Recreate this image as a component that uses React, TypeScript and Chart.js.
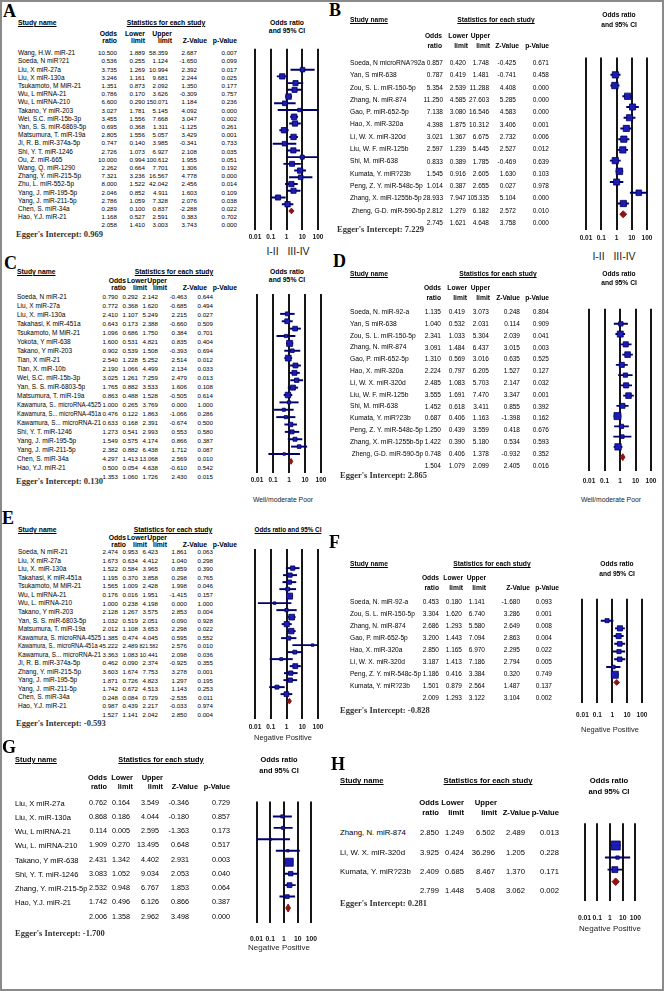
import React, { useEffect, useRef } from 'react';
import { Chart, registerables } from 'chart.js';

Chart.register(...registerables);

// ---------- shared labels ----------
const TICK_VALUES = [0.01, 0.1, 1, 10, 100];
const TICK_LABELS = ['0.01', '0.1', '1', '10', '100'];
const COL_HEAD_1 = ['Odds', 'Lower', 'Upper'];
const COL_HEAD_2 = ['ratio', 'limit', 'limit', 'Z-Value', 'p-Value'];

// ---------- Panel A ----------
const A_STUDIES = ['Wang, H.W. miR-21', 'Soeda, N miR?21', 'Liu, X miR-27a', 'Liu, X miR-130a', 'Tsukamoto, M MiR-21', 'Wu, L miRNA-21', 'Wu, L miRNA-210', 'Takano, Y miR-203', 'Wei, S.C. miR-15b-3p', 'Yan, S. S. miR-6869-5p', 'Matsumura, T. miR-19a', 'Ji, R. B. miR-374a-5p', 'Shi, Y. T. miR-1246', 'Ou, Z. miR-665', 'Wang, Q. miR-1290', 'Zhang, Y. miR-215-5p', 'Zhu, L. miR-552-5p', 'Yang, J. miR-195-5p', 'Yang, J. miR-211-5p', 'Chen, S. miR-34a', 'Hao, Y.J. miR-21'];
const A_OR = [10.5, 0.536, 3.735, 3.246, 1.351, 0.786, 6.6, 3.027, 3.455, 0.695, 2.805, 0.747, 2.726, 10.0, 2.262, 7.321, 8.0, 2.046, 2.786, 0.289, 1.168];
const A_LOWER = [1.889, 0.255, 1.269, 1.161, 0.873, 0.17, 0.29, 1.781, 1.556, 0.368, 1.556, 0.14, 1.073, 0.994, 0.664, 3.236, 1.522, 0.852, 1.059, 0.1, 0.527];
const A_UPPER = [58.359, 1.124, 10.994, 9.681, 2.092, 3.626, 150.071, 5.145, 7.668, 1.311, 5.057, 3.985, 6.927, 100.612, 7.701, 16.567, 42.042, 4.911, 7.328, 0.837, 2.591];
const A_Z = [2.687, -1.65, 2.392, 2.244, 1.35, -0.309, 1.184, 4.092, 3.047, -1.125, 3.429, -0.341, 2.108, 1.955, 1.306, 4.778, 2.456, 1.603, 2.076, -2.288, 0.383];
const A_P = [0.007, 0.099, 0.017, 0.025, 0.177, 0.757, 0.236, 0.0, 0.002, 0.261, 0.001, 0.733, 0.035, 0.051, 0.192, 0.0, 0.014, 0.109, 0.038, 0.022, 0.702];
const A_POOLED = [2.058, 1.41, 3.003, 3.743, 0.0];
const A_EGGER = 0.969;

// ---------- Panel B ----------
const B_STUDIES = ['Soeda, N microRNA?92a', 'Yan, S miR-638', 'Zou, S. L. miR-150-5p', 'Zhang, N. miR-874', 'Gao, P. miR-652-5p', 'Hao, X. miR-320a', 'Li, W. X. miR-320d', 'Liu, W. F. miR-125b', 'Shi, M. miR-638', 'Kumata, Y. miR?23b', 'Peng, Z. Y. miR-548c-5p', 'Zhang, X. miR-1255b-5p', '\u00a0Zheng, G-D. miR-590-5p'];
const B_OR = [0.857, 0.787, 5.354, 11.25, 7.138, 4.398, 3.021, 2.597, 0.833, 1.545, 1.014, 28.933, 2.812];
const B_LOWER = [0.42, 0.419, 2.539, 4.585, 3.08, 1.875, 1.367, 1.239, 0.389, 0.916, 0.387, 7.947, 1.279];
const B_UPPER = [1.748, 1.481, 11.288, 27.603, 16.546, 10.312, 6.675, 5.445, 1.785, 2.605, 2.655, 105.335, 6.182];
const B_Z = [-0.425, -0.741, 4.408, 5.285, 4.583, 3.406, 2.732, 2.527, -0.469, 1.63, 0.027, 5.104, 2.572];
const B_P = [0.671, 0.458, 0.0, 0.0, 0.0, 0.001, 0.006, 0.012, 0.639, 0.103, 0.978, 0.0, 0.01];
const B_POOLED = [2.745, 1.621, 4.648, 3.758, 0.0];
const B_EGGER = 7.229;

// ---------- Panel C ----------
const C_STUDIES = ['Soeda, N miR-21', 'Liu, X miR-27a', 'Liu, X. miR-130a', 'Takahasi, K miR-451a', 'Tsukamoto, M MiR-21', 'Yokota, Y miR-638', 'Takano, Y miR-203', 'Tian, X miR-21', 'Tian, X. miR-10b', 'Wei, S.C. miR-15b-3p', 'Yan, S. S. miR-6803-5p', 'Matsumura, T. miR-19a', 'Kawamura, S.. microRNA-4525', 'Kawamura, S... microRNA-451a', 'Kawamura, S... microRNA-21', 'Shi, Y. T. miR-1246', 'Yang, J. miR-195-5p', 'Yang, J. miR-211-5p', 'Chen, S. miR-34a', 'Hao, Y.J. miR-21'];
const C_OR = [0.79, 0.772, 2.41, 0.643, 1.096, 1.6, 0.902, 2.54, 2.19, 3.025, 1.765, 0.863, 1.0, 0.476, 0.633, 1.273, 1.549, 2.382, 4.297, 0.5];
const C_LOWER = [0.292, 0.368, 1.107, 0.173, 0.686, 0.531, 0.539, 1.228, 1.066, 1.261, 0.882, 0.488, 0.265, 0.122, 0.168, 0.541, 0.575, 0.882, 1.413, 0.054];
const C_UPPER = [2.142, 1.62, 5.249, 2.388, 1.75, 4.821, 1.508, 5.252, 4.499, 7.259, 3.533, 1.528, 3.769, 1.863, 2.391, 2.993, 4.174, 6.438, 13.068, 4.638];
const C_Z = [-0.463, -0.685, 2.215, -0.66, 0.384, 0.835, -0.393, 2.514, 2.134, 2.479, 1.606, -0.505, 0.0, -1.066, -0.674, 0.553, 0.866, 1.712, 2.569, -0.61];
const C_P = [0.644, 0.494, 0.027, 0.509, 0.701, 0.404, 0.694, 0.012, 0.033, 0.013, 0.108, 0.614, 1.0, 0.286, 0.5, 0.58, 0.387, 0.087, 0.01, 0.542];
const C_POOLED = [1.353, 1.06, 1.726, 2.43, 0.015];
const C_EGGER = 0.13;

// ---------- Panel D ----------
const D_STUDIES = ['Soeda, N. miR-92-a', 'Yan, S miR-638', 'Zou, S. L. miR-150-5p', 'Zhang, N. miR-874', 'Gao, P. miR-652-5p', 'Hao, X. miR-320a', 'Li, W. X. miR-320d', 'Liu, W. F. miR-125b', 'Shi, M. miR-638', 'Kumata, Y. miR?23b', 'Peng, Z. Y. miR-548c-5p', 'Zhang, X. miR-1255b-5p', '\u00a0Zheng, G-D. miR-590-5p'];
const D_OR = [1.135, 1.04, 2.341, 3.091, 1.31, 2.224, 2.485, 3.555, 1.452, 0.687, 1.25, 1.422, 0.748];
const D_LOWER = [0.419, 0.532, 1.033, 1.484, 0.569, 0.797, 1.083, 1.691, 0.618, 0.406, 0.439, 0.39, 0.406];
const D_UPPER = [3.073, 2.031, 5.304, 6.437, 3.016, 6.205, 5.703, 7.47, 3.411, 1.163, 3.559, 5.18, 1.378];
const D_Z = [0.248, 0.114, 2.039, 3.015, 0.635, 1.527, 2.147, 3.347, 0.855, -1.398, 0.418, 0.534, -0.932];
const D_P = [0.804, 0.909, 0.041, 0.003, 0.525, 0.127, 0.032, 0.001, 0.392, 0.162, 0.676, 0.593, 0.352];
const D_POOLED = [1.504, 1.079, 2.099, 2.405, 0.016];
const D_EGGER = 2.865;

// ---------- Panel E ----------
const E_STUDIES = ['Soeda, N miR-21', 'Liu, X miR-27a', 'Liu, X. miR-130a', 'Takahasi, K miR-451a', 'Tsukamoto, M MiR-21', 'Wu, L miRNA-21', 'Wu, L. miRNA-210', 'Takano, Y miR-203', 'Yan, S. S. miR-6803-5p', 'Matsumura, T. miR-19a', 'Kawamura, S. microRNA-4525', 'Kawamura, S.. microRNA-451a', 'Kawamura, S... microRNA-21', 'Ji, R. B. miR-374a-5p', 'Zhang, Y. miR-215-5p', 'Yang, J. miR-195-5p', 'Yang, J. miR-211-5p', 'Chen, S. miR-34a', 'Hao, Y.J. miR-21'];
const E_OR = [2.474, 1.673, 1.522, 1.195, 1.565, 0.176, 1.0, 2.128, 1.032, 2.012, 1.385, 45.222, 3.363, 0.462, 3.603, 1.871, 1.742, 0.248, 0.987];
const E_LOWER = [0.953, 0.634, 0.584, 0.37, 1.009, 0.016, 0.238, 1.267, 0.519, 1.108, 0.474, 2.489, 1.083, 0.09, 1.674, 0.726, 0.672, 0.084, 0.439];
const E_UPPER = [6.423, 4.412, 3.965, 3.858, 2.428, 1.951, 4.198, 3.575, 2.051, 3.653, 4.045, 821.582, 10.441, 2.374, 7.753, 4.823, 4.513, 0.729, 2.217];
const E_Z = [1.861, 1.04, 0.859, 0.298, 1.998, -1.415, 0.0, 2.853, 0.09, 2.298, 0.595, 2.576, 2.098, -0.925, 3.278, 1.297, 1.143, -2.535, -0.033];
const E_P = [0.063, 0.298, 0.39, 0.765, 0.046, 0.157, 1.0, 0.004, 0.928, 0.022, 0.552, 0.01, 0.036, 0.355, 0.001, 0.195, 0.253, 0.011, 0.974];
const E_POOLED = [1.527, 1.141, 2.042, 2.85, 0.004];
const E_EGGER = -0.593;

// ---------- Panel F ----------
const F_STUDIES = ['Soeda, N. miR-92-a', 'Zou, S. L. miR-150-5p', 'Zhang, N. miR-874', 'Gao, P. miR-652-5p', 'Hao, X. miR-320a', 'Li, W. X. miR-320d', 'Peng, Z. Y. miR-548c-5p', 'Kumata, Y. miR?23b'];
const F_OR = [0.453, 3.304, 2.686, 3.2, 2.85, 3.187, 1.186, 1.501];
const F_LOWER = [0.18, 1.62, 1.293, 1.443, 1.165, 1.413, 0.416, 0.879];
const F_UPPER = [1.141, 6.74, 5.58, 7.094, 6.97, 7.186, 3.384, 2.564];
const F_Z = [-1.68, 3.286, 2.649, 2.863, 2.295, 2.794, 0.32, 1.487];
const F_P = [0.093, 0.001, 0.008, 0.004, 0.022, 0.005, 0.749, 0.137];
const F_POOLED = [2.009, 1.293, 3.122, 3.104, 0.002];
const F_EGGER = -0.828;

// ---------- Panel G ----------
const G_STUDIES = ['Liu, X miR-27a', 'Liu, X. miR-130a', 'Wu, L miRNA-21', 'Wu, L. miRNA-210', 'Takano, Y miR-638', 'Shi, Y. T. miR-1246', 'Zhang, Y. miR-215-5p', 'Hao, Y.J. miR-21'];
const G_OR = [0.762, 0.868, 0.114, 1.909, 2.431, 3.083, 2.532, 1.742];
const G_LOWER = [0.164, 0.186, 0.005, 0.27, 1.342, 1.052, 0.948, 0.496];
const G_UPPER = [3.549, 4.044, 2.595, 13.495, 4.402, 9.034, 6.767, 6.126];
const G_Z = [-0.346, -0.18, -1.363, 0.648, 2.931, 2.053, 1.853, 0.866];
const G_P = [0.729, 0.857, 0.173, 0.517, 0.003, 0.04, 0.064, 0.387];
const G_POOLED = [2.006, 1.358, 2.962, 3.498, 0.0];
const G_EGGER = -1.7;

// ---------- Panel H ----------
const H_STUDIES = ['Zhang, N. miR-874', 'Li, W. X. miR-320d', 'Kumata, Y. miR?23b'];
const H_OR = [2.85, 3.925, 2.409];
const H_LOWER = [1.249, 0.424, 0.685];
const H_UPPER = [6.502, 36.296, 8.467];
const H_Z = [2.489, 1.205, 1.37];
const H_P = [0.013, 0.228, 0.171];
const H_POOLED = [2.799, 1.448, 5.408, 3.062, 0.002];
const H_EGGER = 0.281;

// ---------- styles ----------
const SANS = '"Liberation Sans", Arial, sans-serif';
const SERIF = '"Liberation Serif", "Times New Roman", serif';
const BOX = '#1c1cb4';
const BOX_EDGE = '#00005a';
const CI_COLOR = '#00006e';
const DIA = '#8e1414';
const GRID = '#161616';

type PanelData = { names: string[]; or: number[]; lo: number[]; hi: number[]; z: number[]; p: number[]; pooled: number[]; egger: number };
type Plot = { left: number; right: number; top: number; bottom: number; tickY: number; tickFs: number };
type Cfg = {
  label: string; lx: number; ly: number;
  fs: number; nfs: number; hfs: number;
  nameX: number; cols: number[]; hcols: number[];
  topY: number; statsX: number;
  ciX: number; ciY: number[]; ciLines: string[]; ciU: boolean;
  h1: number; h2: number;
  r0: number; pitch: number;
  eggerX: number; eggerY: number;
  plot: Plot;
  footer: string; footerX: number; footerY: number; footerFs: number;
  tau2: number; maxSide: number; minSide: number; dh: number;
};

const mk = (names: string[], or: number[], lo: number[], hi: number[], z: number[], p: number[], pooled: number[], egger: number): PanelData => ({ names, or, lo, hi, z, p, pooled, egger });

const DATA: Record<string, PanelData> = {
  A: mk(A_STUDIES, A_OR, A_LOWER, A_UPPER, A_Z, A_P, A_POOLED, A_EGGER),
  B: mk(B_STUDIES, B_OR, B_LOWER, B_UPPER, B_Z, B_P, B_POOLED, B_EGGER),
  C: mk(C_STUDIES, C_OR, C_LOWER, C_UPPER, C_Z, C_P, C_POOLED, C_EGGER),
  D: mk(D_STUDIES, D_OR, D_LOWER, D_UPPER, D_Z, D_P, D_POOLED, D_EGGER),
  E: mk(E_STUDIES, E_OR, E_LOWER, E_UPPER, E_Z, E_P, E_POOLED, E_EGGER),
  F: mk(F_STUDIES, F_OR, F_LOWER, F_UPPER, F_Z, F_P, F_POOLED, F_EGGER),
  G: mk(G_STUDIES, G_OR, G_LOWER, G_UPPER, G_Z, G_P, G_POOLED, G_EGGER),
  H: mk(H_STUDIES, H_OR, H_LOWER, H_UPPER, H_Z, H_P, H_POOLED, H_EGGER),
};

const TWO = ['Odds ratio', 'and 95% CI'];

const CFGS: Cfg[] = [
  { label: 'A', lx: 3, ly: 12, fs: 6.5, nfs: 6.2, hfs: 6.8, nameX: 18, cols: [117, 145, 168, 197, 237], hcols: [117, 145, 172, 207, 237],
    topY: 23, statsX: 166, ciX: 287, ciY: [23, 31], ciLines: TWO, ciU: false, h1: 34, h2: 41, r0: 53, pitch: 8.2,
    eggerX: 16, eggerY: 234, plot: { left: 255, right: 318, top: 46, bottom: 230, tickY: 237, tickFs: 6.5 },
    footer: 'I-II   III-IV', footerX: 288, footerY: 251, footerFs: 10.5, tau2: 1.5, maxSide: 5.5, minSide: 3, dh: 3.5 },
  { label: 'B', lx: 329, ly: 11, fs: 6.7, nfs: 6.5, hfs: 6.7, nameX: 350, cols: [443, 466, 489, 516, 549], hcols: [442, 468, 490, 519, 549],
    topY: 20, statsX: 496, ciX: 619, ciY: [15, 25], ciLines: TWO, ciU: false, h1: 36, h2: 46, r0: 63, pitch: 12.3,
    eggerX: 337, eggerY: 229, plot: { left: 586, right: 647, top: 54, bottom: 230, tickY: 238, tickFs: 6.5 },
    footer: 'I-II   III-IV', footerX: 614, footerY: 256, footerFs: 10.5, tau2: 1.0, maxSide: 6.5, minSide: 3, dh: 4 },
  { label: 'C', lx: 4, ly: 264, fs: 6.5, nfs: 6.2, hfs: 6.8, nameX: 17, cols: [118, 138, 158, 187, 213], hcols: [126, 147, 167, 207, 237],
    topY: 272, statsX: 174, ciX: 287, ciY: [272, 280], ciLines: TWO, ciU: false, h1: 281, h2: 288, r0: 297, pitch: 9,
    eggerX: 16, eggerY: 481, plot: { left: 257, right: 321, top: 291, bottom: 473, tickY: 480, tickFs: 6.5 },
    footer: 'Well/moderate Poor', footerX: 283, footerY: 500, footerFs: 6.8, tau2: 0.1, maxSide: 6, minSide: 2.5, dh: 3.5 },
  { label: 'D', lx: 333, ly: 262, fs: 6.7, nfs: 6.5, hfs: 6.7, nameX: 350, cols: [441, 465, 489, 520, 549], hcols: [441, 467, 490, 520, 549],
    topY: 274, statsX: 498, ciX: 619, ciY: [274, 283], ciLines: TWO, ciU: false, h1: 288, h2: 298, r0: 312, pitch: 11.8,
    eggerX: 340, eggerY: 475, plot: { left: 589, right: 651, top: 305, bottom: 471, tickY: 481, tickFs: 6.5 },
    footer: 'Well/moderate Poor', footerX: 611, footerY: 500, footerFs: 6.8, tau2: 0.05, maxSide: 7, minSide: 3, dh: 4 },
  { label: 'E', lx: 2, ly: 519, fs: 6.5, nfs: 6.2, hfs: 6.8, nameX: 18, cols: [118, 138, 158, 187, 213], hcols: [126, 147, 167, 207, 237],
    topY: 530, statsX: 173, ciX: 288, ciY: [530], ciLines: ['Odds ratio and 95% CI'], ciU: true, h1: 538, h2: 545, r0: 552, pitch: 8.55,
    eggerX: 16, eggerY: 723, plot: { left: 255, right: 318, top: 546, bottom: 719, tickY: 727, tickFs: 6.5 },
    footer: 'Negative Positive', footerX: 283, footerY: 737, footerFs: 7.5, tau2: 0.15, maxSide: 6, minSide: 2.5, dh: 3.5 },
  { label: 'F', lx: 329, ly: 543, fs: 6.6, nfs: 6.5, hfs: 6.7, nameX: 350, cols: [439, 462, 485, 520, 552], hcols: [439, 463, 486, 530, 559],
    topY: 564, statsX: 492, ciX: 617, ciY: [564, 574], ciLines: TWO, ciU: false, h1: 578, h2: 588, r0: 602, pitch: 12,
    eggerX: 340, eggerY: 710, plot: { left: 582, right: 642, top: 595, bottom: 703, tickY: 715, tickFs: 6.5 },
    footer: 'Negative Positive', footerX: 610, footerY: 729, footerFs: 7.5, tau2: 0, maxSide: 7, minSide: 3, dh: 4.5 },
  { label: 'G', lx: 2, ly: 748, fs: 7.5, nfs: 7.2, hfs: 7.4, nameX: 15, cols: [107, 130, 159, 189, 230], hcols: [107, 133, 163, 198, 230],
    topY: 760, statsX: 161, ciX: 279, ciY: [760, 771], ciLines: TWO, ciU: false, h1: 778, h2: 787, r0: 803, pitch: 14.25,
    eggerX: 15, eggerY: 933, plot: { left: 252, right: 315, top: 797, bottom: 922, tickY: 938, tickFs: 6.8 },
    footer: 'Negative Positive', footerX: 279, footerY: 948, footerFs: 8, tau2: 0, maxSide: 8, minSide: 1.8, dh: 5 },
  { label: 'H', lx: 331, ly: 765, fs: 7.8, nfs: 7.6, hfs: 7.7, nameX: 340, cols: [439, 464, 495, 525, 559], hcols: [439, 464, 497, 530, 559],
    topY: 781, statsX: 488, ciX: 609, ciY: [781, 792], ciLines: TWO, ciU: false, h1: 803, h2: 813, r0: 833, pitch: 19.3,
    eggerX: 340, eggerY: 903, plot: { left: 579, right: 640, top: 818, bottom: 900, tickY: 917, tickFs: 6.8 },
    footer: 'Negative Positive', footerX: 610, footerY: 929, footerFs: 8, tau2: 0, maxSide: 9, minSide: 2.5, dh: 6 },
];

// text width measurement (to squeeze texts that would run into the next column)
let measureCtx: CanvasRenderingContext2D | null = null;
function textWidth(s: string, fs: number): number {
  if (!measureCtx) measureCtx = document.createElement('canvas').getContext('2d');
  if (!measureCtx) return s.length * fs * 0.5;
  measureCtx.font = `${fs}px "Liberation Sans", Arial, sans-serif`;
  return measureCtx.measureText(s).width;
}

type TxtProps = { x: number; y: number; s: string; fs: number; align?: 'left' | 'right' | 'center'; bold?: boolean; serif?: boolean; u?: boolean; color?: string; squeeze?: number };
function Txt({ x, y, s, fs, align = 'left', bold = false, serif = false, u = false, color = '#000', squeeze = 1 }: TxtProps) {
  const st: React.CSSProperties = {
    position: 'absolute', top: y - fs * 0.6, fontSize: fs, lineHeight: `${fs * 1.2}px`, whiteSpace: 'pre',
    fontFamily: serif ? SERIF : SANS, fontWeight: bold ? 700 : 400, color, textDecoration: u ? 'underline' : 'none',
  };
  if (squeeze < 1) {
    st.transform = `scaleX(${squeeze})`;
    st.transformOrigin = align === 'right' ? 'right center' : 'left center';
  }
  if (align === 'left') st.left = x;
  else if (align === 'right') { st.left = x - 400; st.width = 400; st.textAlign = 'right'; }
  else { st.left = x - 200; st.width = 400; st.textAlign = 'center'; }
  return <div style={st}>{s}</div>;
}

function Forest({ d, c }: { d: PanelData; c: Cfg }) {
  const ref = useRef<HTMLCanvasElement>(null);
  const p = c.plot;
  const padX = 14, padT = 2, padB = 2;
  const tickPad = p.tickY - p.bottom - 0.6 * p.tickFs;
  const axisH = tickPad + p.tickFs * 1.2 + 2;
  const W = p.right - p.left + 2 * padX;
  const H = Math.ceil(p.bottom - p.top + padT + axisH + padB);
  useEffect(() => {
    const n = d.or.length;
    const yMin = (p.top - c.r0) / c.pitch;
    const yMax = (p.top + (H - padT - padB - axisH) - c.r0) / c.pitch;
    const se = d.lo.map((l, i) => (Math.log(d.hi[i]) - Math.log(l)) / 3.92);
    const w = se.map((s) => 1 / (s * s + c.tau2));
    const wMax = Math.max(...w);
    const radii = w.map((v) => Math.max(c.minSide, c.maxSide * Math.sqrt(v / wMax)) / Math.SQRT2);
    const [po, pl, ph] = d.pooled;
    const dh = c.dh / c.pitch;
    const chart = new Chart(ref.current as HTMLCanvasElement, {
      type: 'bar',
      data: {
        datasets: [
          {
            type: 'bar',
            data: d.lo.map((l, i) => ({ x: [l, d.hi[i]], y: i })) as any,
            backgroundColor: CI_COLOR, borderWidth: 0, barThickness: 1.3, grouped: false, order: 3,
          } as any,
          {
            type: 'scatter',
            data: d.or.map((v, i) => ({ x: v, y: i })),
            pointStyle: 'rect', pointRadius: radii, backgroundColor: BOX, borderColor: BOX_EDGE, borderWidth: 0.8, order: 2,
          } as any,
          {
            type: 'scatter',
            data: [{ x: pl, y: n }, { x: po, y: n - dh }, { x: ph, y: n }, { x: po, y: n + dh }, { x: pl, y: n }],
            showLine: true, fill: 'shape', borderColor: DIA, backgroundColor: DIA, borderWidth: 1, pointRadius: 0, tension: 0, order: 1,
          } as any,
        ],
      },
      options: {
        indexAxis: 'y',
        responsive: false,
        maintainAspectRatio: false,
        animation: false,
        devicePixelRatio: 1,
        events: [],
        layout: { padding: { left: padX, right: padX, top: padT, bottom: padB } },
        plugins: { legend: { display: false }, tooltip: { enabled: false } },
        scales: {
          x: {
            type: 'logarithmic', min: 0.01, max: 100, bounds: 'data', position: 'bottom',
            afterBuildTicks: (s: any) => { s.ticks = TICK_VALUES.map((v) => ({ value: v })); },
            afterFit: (s: any) => { s.height = axisH; },
            ticks: {
              callback: (_v: any, i: number) => TICK_LABELS[i],
              font: { size: p.tickFs, weight: 'bold', family: SANS }, color: '#151515', padding: tickPad,
              autoSkip: false, maxRotation: 0, minRotation: 0,
            },
            grid: { color: GRID, lineWidth: 2, drawTicks: false },
            border: { display: false },
          },
          y: { type: 'linear', min: yMin, max: yMax, reverse: true, display: false, bounds: 'data' },
        },
      } as any,
    });
    return () => chart.destroy();
  }, []);
  return <canvas ref={ref} width={W} height={H} style={{ position: 'absolute', left: p.left - padX, top: p.top - padT, width: W, height: H }} />;
}

function Panel({ c }: { c: Cfg }) {
  const d = DATA[c.label];
  const numRow = (vals: number[], y: number, keyBase: string) =>
    vals.map((v, j) => {
      const s = v.toFixed(3);
      let squeeze = 1;
      if (j > 0) {
        const avail = c.cols[j] - c.cols[j - 1] - 1.5;
        const wv = textWidth(s, c.nfs);
        if (wv > avail) squeeze = avail / wv;
      }
      return <Txt key={keyBase + j} x={c.cols[j]} y={y} s={s} fs={c.nfs} align="right" squeeze={squeeze} />;
    });
  const rows = d.names.map((name, i) => {
    const y = c.r0 + c.pitch * i;
    const vals = [d.or[i], d.lo[i], d.hi[i], d.z[i], d.p[i]];
    const orStart = c.cols[0] - textWidth(vals[0].toFixed(3), c.nfs);
    const avail = orStart - 1.5 - c.nameX;
    const nw = textWidth(name, c.fs);
    const squeeze = nw > avail ? avail / nw : 1;
    return (
      <React.Fragment key={i}>
        <Txt x={c.nameX} y={y} s={name} fs={c.fs} squeeze={squeeze} />
        {numRow(vals, y, 'v')}
      </React.Fragment>
    );
  });
  const sy = c.r0 + c.pitch * d.names.length;
  return (
    <>
      <Txt x={c.lx} y={c.ly} s={c.label} fs={18} bold serif color="#000" />
      <Txt x={c.nameX} y={c.topY} s="Study name" fs={c.hfs} bold u />
      <Txt x={c.statsX} y={c.topY} s="Statistics for each study" fs={c.hfs} bold u align="center" />
      {c.ciLines.map((t, i) => <Txt key={i} x={c.ciX} y={c.ciY[i]} s={t} fs={c.ciU ? c.hfs - 0.5 : c.hfs} bold u={c.ciU} align="center" />)}
      {COL_HEAD_1.map((t, j) => <Txt key={'h1' + j} x={c.hcols[j]} y={c.h1} s={t} fs={c.hfs} bold align="right" />)}
      {COL_HEAD_2.map((t, j) => <Txt key={'h2' + j} x={c.hcols[j]} y={c.h2} s={t} fs={c.hfs} bold align="right" />)}
      {rows}
      {numRow(d.pooled, sy, 's')}
      <Txt x={c.eggerX} y={c.eggerY} s={`Egger's Intercept: ${d.egger.toFixed(3)}`} fs={8.5} bold serif color="#333" />
      <Forest d={d} c={c} />
      <Txt x={c.footerX} y={c.footerY} s={c.footer} fs={c.footerFs} align="center" color="#222" />
    </>
  );
}

export default function App() {
  return (
    <div style={{ position: 'absolute', left: 0, top: 0, width: 664, height: 991, background: '#fff', overflow: 'hidden' }}>
      {CFGS.map((c) => <Panel key={c.label} c={c} />)}
      <div style={{ position: 'absolute', left: 0, top: 0, width: 664, height: 991, boxSizing: 'border-box', border: '2px solid #8a8a8a', pointerEvents: 'none' }} />
    </div>
  );
}
